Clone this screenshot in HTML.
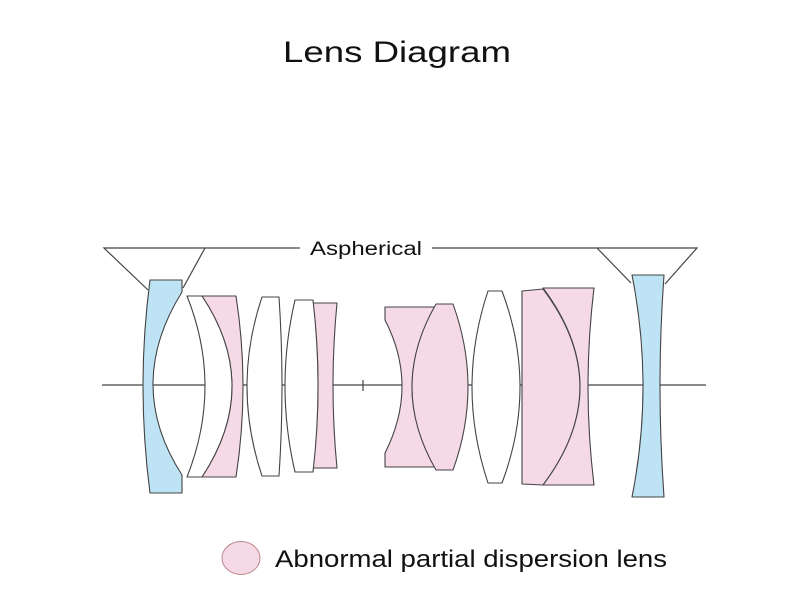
<!DOCTYPE html>
<html><head><meta charset="utf-8"><style>html,body{margin:0;padding:0;background:#fff;}svg{display:block}</style></head>
<body>
<svg width="800" height="600" viewBox="0 0 800 600" xmlns="http://www.w3.org/2000/svg">
<rect width="800" height="600" fill="#fff"/>
<text x="283" y="62" font-family="Liberation Sans, sans-serif" font-size="30" fill="#111" textLength="228" lengthAdjust="spacingAndGlyphs">Lens Diagram</text>
<g stroke="#444" stroke-width="1.2" fill="none">
<line x1="102" y1="385" x2="706" y2="385"/>
<line x1="363" y1="380" x2="363" y2="391"/>
<polyline points="148,290 104,248 300,248"/>
<line x1="205" y1="248" x2="183" y2="288"/>
<polyline points="432,248 697,248 665,284"/>
<line x1="597" y1="248" x2="631" y2="283"/>
</g>
<text x="310" y="255" font-family="Liberation Sans, sans-serif" font-size="19" fill="#111" textLength="112" lengthAdjust="spacingAndGlyphs">Aspherical</text>
<g stroke="#444" stroke-width="1.1" stroke-linejoin="round">
<!-- lens 1 blue -->
<path d="M150,280 L182,280 L182,292 Q124,385 182,475 L182,493 L150,493 Q136,386 150,280 Z" fill="#bde3f5"/>
<!-- lens 2 white + pink -->
<path d="M202,296 L236,296 Q250,386 236,477 L202,477 Q262,386 202,296 Z" fill="#f6d9e7"/>
<path d="M187,296 L202,296 Q262,386 202,477 L187,477 Q223,386 187,296 Z" fill="#fff"/>
<!-- lens 3 white -->
<path d="M262,297 L279,297 Q285,386 279,476 L262,476 Q232,386 262,297 Z" fill="#fff"/>
<!-- lens 4 -->
<path d="M313,303 L337,303 Q329,386 337,468 L313,468 Q323,386 313,303 Z" fill="#f6d9e7"/>
<path d="M295,300 L313,300 Q323,386 313,472 L295,472 Q275,386 295,300 Z" fill="#fff"/>
<!-- lens 5 pink biconcave -->
<path d="M385,307 L436,307 Q388,387 436,467 L385,467 L385,453 Q419,386 385,320 Z" fill="#f6d9e7"/>
<!-- lens 6 pink biconvex -->
<path d="M436,304 L453,304 Q483,387 453,470 L436,470 Q388,387 436,304 Z" fill="#f6d9e7"/>
<!-- lens 7 white -->
<path d="M488,291 L502,291 Q538,387 502,483 L488,483 Q456,387 488,291 Z" fill="#fff"/>
<!-- lens 8 -->
<path d="M522,291 L543,289 Q617,387 543,485 L522,484 Z" fill="#f6d9e7"/>
<path d="M543,288 L594,288 Q582,387 594,485 L543,485 Q617,387 543,288 Z" fill="#f6d9e7"/>
<!-- lens 9 blue -->
<path d="M632,275 L664,275 Q656,386 664,497 L632,497 Q654,386 632,275 Z" fill="#bde3f5"/>
</g>
<ellipse cx="241" cy="558" rx="19" ry="16.5" fill="#f6d9e7" stroke="#b88" stroke-width="1"/>
<text x="275" y="567" font-family="Liberation Sans, sans-serif" font-size="24" fill="#111" textLength="392" lengthAdjust="spacingAndGlyphs">Abnormal partial dispersion lens</text>
</svg>
</body></html>
